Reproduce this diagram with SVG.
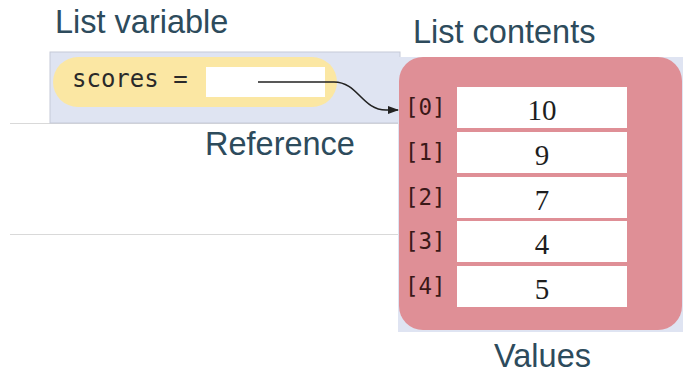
<svg xmlns="http://www.w3.org/2000/svg" width="683" height="373" viewBox="0 0 683 373">
  <defs>
    <style>
      .title { font-family: "Liberation Sans", Arial, sans-serif; font-size: 32.5px; fill: #2d4b5c; }
      .mono { font-family: "DejaVu Sans Mono", "Liberation Mono", monospace; }
      .idx { font-size: 22.5px; fill: #3a1818; }
      .val { font-family: "Liberation Serif", "Times New Roman", serif; font-size: 29px; fill: #1e1e1e; text-anchor: middle; }
      .cell { fill: #ffffff; }
      .rule { stroke: #d9d9d9; stroke-width: 1.2; }
      .link { fill: none; stroke: #222222; stroke-width: 1.6; }
    </style>
    <marker id="arrowhead" markerWidth="11" markerHeight="8" refX="10" refY="4" orient="auto" markerUnits="userSpaceOnUse" viewBox="0 0 11 8">
      <path d="M0,0 L11,4 L0,8 Z" fill="#222222"/>
    </marker>
  </defs>

  <rect width="683" height="373" fill="#ffffff"/>

  <!-- separator rules -->
  <line class="rule" x1="10" y1="123.5" x2="398" y2="123.5"/>
  <line class="rule" x1="10" y1="234.5" x2="398" y2="234.5"/>

  <!-- captions -->
  <text class="title" x="55" y="33">List variable</text>
  <text class="title" x="413" y="43">List contents</text>
  <text class="title" x="205" y="155">Reference</text>
  <text class="title" x="494" y="367">Values</text>

  <!-- variable node -->
  <g id="variable">
    <rect x="50" y="52" width="350" height="71" fill="#dfe4f2" stroke="#c5cad8" stroke-width="1"/>
    <rect x="53" y="57" width="284" height="50" rx="25" fill="#fbe7a3"/>
    <text class="mono" x="72" y="87" font-size="24" fill="#2a2a2a">scores =</text>
    <rect x="206" y="67" width="119" height="30" fill="#ffffff"/>
  </g>

  <!-- list node -->
  <g id="list">
    <rect x="398" y="57" width="285" height="275" fill="#dfe4f2"/>
    <rect x="399" y="57" width="283" height="273" rx="24" fill="#df8f96"/>
    <g id="item0">
      <rect class="cell" x="457" y="87" width="170" height="41"/>
      <text class="mono idx" x="405" y="115">[0]</text>
      <text class="val" x="542" y="120">10</text>
    </g>
    <g id="item1">
      <rect class="cell" x="457" y="132" width="170" height="41"/>
      <text class="mono idx" x="405" y="160">[1]</text>
      <text class="val" x="542" y="165">9</text>
    </g>
    <g id="item2">
      <rect class="cell" x="457" y="177" width="170" height="41"/>
      <text class="mono idx" x="405" y="205">[2]</text>
      <text class="val" x="542" y="210">7</text>
    </g>
    <g id="item3">
      <rect class="cell" x="457" y="221" width="170" height="41"/>
      <text class="mono idx" x="405" y="249">[3]</text>
      <text class="val" x="542" y="254">4</text>
    </g>
    <g id="item4">
      <rect class="cell" x="457" y="266" width="170" height="41"/>
      <text class="mono idx" x="405" y="294">[4]</text>
      <text class="val" x="542" y="299">5</text>
    </g>
  </g>

  <!-- connectors -->
  <g id="connectors">
    <path class="link" d="M258,82 H334 C358,82 362,110 386,110 L398,110" marker-end="url(#arrowhead)"/>
  </g>
</svg>
